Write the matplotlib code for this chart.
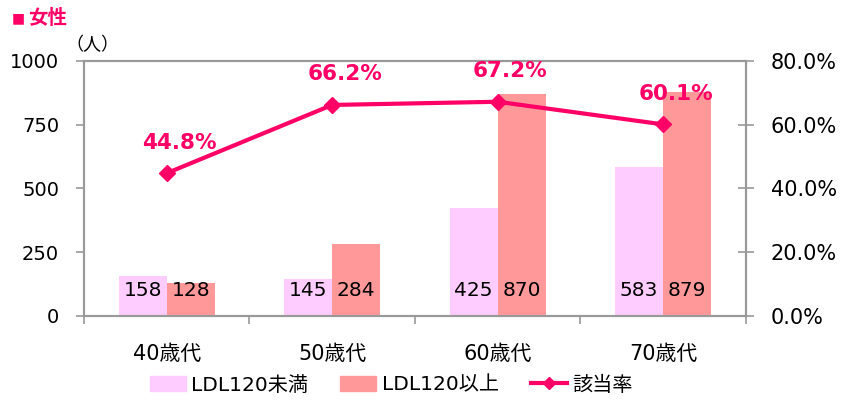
import numpy as np
import matplotlib.pyplot as plt
from matplotlib.lines import Line2D
from matplotlib.patches import Patch

fams = ['DejaVu Sans', 'Noto Sans CJK JP']
plt.rcParams['font.family'] = fams

categories = ['40歳代', '50歳代', '60歳代', '70歳代']
under120 = [158, 145, 425, 583]
over120 = [128, 284, 870, 879]
rate = [44.8, 66.2, 67.2, 60.1]

pink_light = '#FFCCFF'
salmon = '#FF9999'
magenta = '#FF0066'
spine_c = '#999999'

fig = plt.figure(figsize=(8.41, 4.01), dpi=100)
ax = fig.add_axes([0.0999, 0.212, 0.787, 0.636])
ax2 = ax.twinx()

x = np.arange(len(categories))
w = 0.29
ax.bar(x - w/2, under120, w, color=pink_light, zorder=2)
ax.bar(x + w/2, over120, w, color=salmon, zorder=2)
for i in range(len(x)):
    ax.text(x[i] - w/2, 100, str(under120[i]), ha='center', va='center', fontsize=14.5, zorder=3)
    ax.text(x[i] + w/2, 100, str(over120[i]), ha='center', va='center', fontsize=14.5, zorder=3)

ax.set_xlim(-0.5, len(x) - 0.5)
ax.set_ylim(0, 1000)
ax.set_yticks([0, 250, 500, 750, 1000])
ax.set_xticks(x)
ax.set_xticklabels(categories, fontsize=15)
ax.set_xticks(np.arange(-0.5, len(x), 1), minor=True)
ax.tick_params(axis='x', which='major', length=0, pad=20)
ax.tick_params(axis='x', which='minor', length=6, color=spine_c, width=1.2)
ax.tick_params(axis='y', length=6, color=spine_c, width=1.2, labelsize=14, pad=12)

ax2.plot(x, rate, color=magenta, lw=3, marker='D', markersize=8, zorder=4)
for i in range(len(x)):
    ax2.annotate(f'{rate[i]}%', (x[i], rate[i]), xytext=(9, 22), textcoords='offset points',
                 ha='center', va='center', color=magenta, fontsize=15.5, fontweight='bold')
ax2.set_ylim(0, 80)
ax2.set_yticks([0, 20, 40, 60, 80])
ax2.set_yticklabels([f'{v:.1f}%' for v in [0, 20, 40, 60, 80]])
ax2.tick_params(axis='y', direction='inout', length=12, color=spine_c, width=1.2, labelsize=15, pad=12)

for a in (ax, ax2):
    for s in a.spines.values():
        s.set_color(spine_c)
        s.set_linewidth(1.5)

fig.text(0.014, 0.955, '■', color=magenta, fontsize=10, va='center')
fig.text(0.034, 0.955, '女性', color=magenta, fontsize=14, fontweight='bold', va='center')
fig.text(0.078, 0.887, '（人）', fontsize=13, va='center')

handles = [Patch(color=pink_light), Patch(color=salmon),
           Line2D([0], [0], color=magenta, lw=3, marker='D', markersize=6)]
leg = fig.legend(handles, ['LDL120未満', 'LDL120以上', '該当率'], loc='center',
                 bbox_to_anchor=(0.465, 0.04), ncol=3, frameon=False,
                 prop={'family': fams, 'size': 14.5},
                 handlelength=1.8, columnspacing=1.6, handletextpad=0.25)

fig.savefig('out.png', dpi=100)
